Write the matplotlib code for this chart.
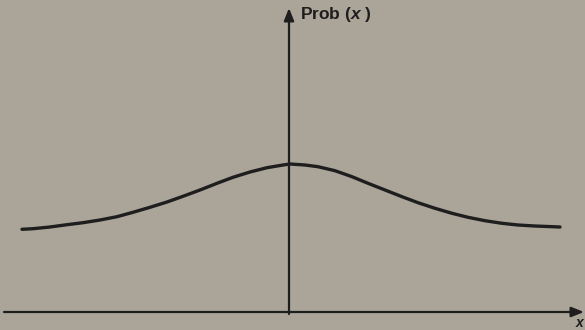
import matplotlib
matplotlib.use("Agg")
import matplotlib.pyplot as plt

# ── Data ──────────────────────────────────────────────────────────────────────
x_vals = [-2.68, -2.57, -2.40, -2.23, -2.07, -1.90, -1.73, -1.57, -1.40,
          -1.23, -1.07, -0.90, -0.73, -0.57, -0.40, -0.23, -0.07, 0.00,
          0.15, 0.28, 0.45, 0.62, 0.78, 0.95, 1.12, 1.28, 1.45, 1.62,
          1.78, 1.95, 2.12, 2.28, 2.45, 2.70]
prob_vals = [0.827, 0.833, 0.850, 0.873, 0.893, 0.920, 0.953, 0.997, 1.047,
             1.100, 1.157, 1.220, 1.287, 1.347, 1.400, 1.443, 1.470, 1.480,
             1.470, 1.453, 1.413, 1.353, 1.287, 1.220, 1.153, 1.093, 1.037,
             0.987, 0.947, 0.913, 0.887, 0.870, 0.860, 0.850]
y_label = "Prob ($\\mathbf{\\mathit{x}}$ )"
x_label = "$\\mathit{x}$"

BG = "#aba599"
INK = "#1e1e1e"

plt.rcParams["font.family"] = ["Liberation Sans", "DejaVu Sans"]
plt.rcParams["mathtext.fontset"] = "custom"
plt.rcParams["mathtext.it"] = "Liberation Sans:italic:bold"
plt.rcParams["mathtext.bf"] = "Liberation Sans:italic:bold"
plt.rcParams["mathtext.rm"] = "Liberation Sans"

fig = plt.figure(figsize=(5.85, 3.3), dpi=100)
fig.patch.set_facecolor(BG)
ax = fig.add_axes([0, 0, 1, 1])
ax.set_facecolor(BG)
ax.set_xlim(-2.90, 2.95)
ax.set_ylim(-0.18, 3.12)
ax.axis("off")

# ── Axes with arrowheads ──
ax.annotate("", xy=(2.94, 0.0), xytext=(-2.86, 0.0),
            arrowprops=dict(arrowstyle="-|>,head_length=0.75,head_width=0.3",
                            color=INK, lw=1.6, shrinkA=0, shrinkB=0))
ax.annotate("", xy=(-0.01, 3.04), xytext=(-0.01, -0.02),
            arrowprops=dict(arrowstyle="-|>,head_length=0.75,head_width=0.3",
                            color=INK, lw=1.6, shrinkA=0, shrinkB=0))

# ── Curve ──
ax.plot(x_vals, prob_vals, color=INK, lw=2.4, solid_capstyle="round",
        solid_joinstyle="round")

# ── Labels ──
ax.text(0.10, 2.97, y_label, fontsize=12.5, color=INK, va="center",
        ha="left", fontweight="bold")
ax.text(2.85, -0.11, x_label, fontsize=10, color=INK, va="center",
        ha="left", fontweight="bold")

fig.savefig("out.png", dpi=100, facecolor=BG)
